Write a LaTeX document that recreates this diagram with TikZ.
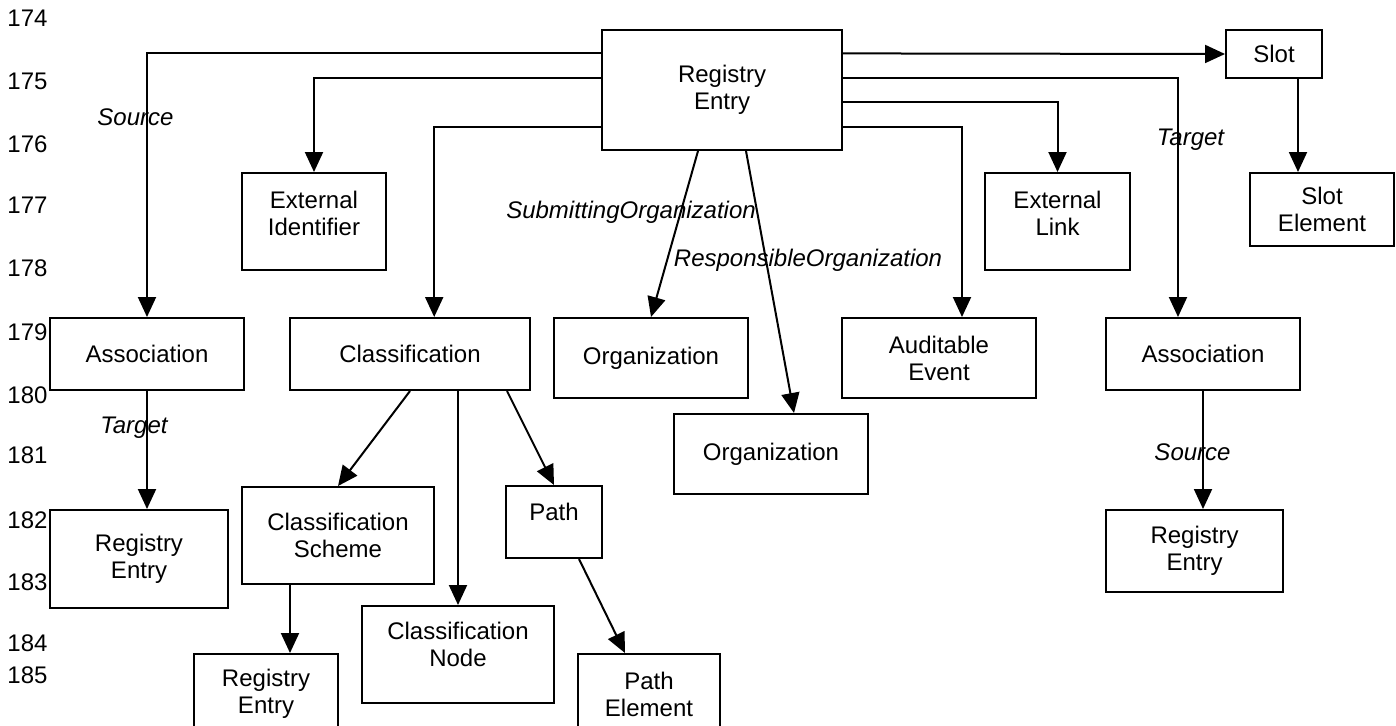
\documentclass[tikz,border=0pt]{standalone}
\usepackage{fontspec}
\setmainfont{Liberation Sans}
\usepackage{tikz}
\usetikzlibrary{shapes,arrows.meta,positioning}
\usetikzlibrary{calc}

\begin{document}
\begin{tikzpicture}
  [
    x=0.5pt, y=-0.5pt,
    >={Triangle[length=10pt, width=9pt]},
    font=\fontsize{12}{13.5}\selectfont,
    Box/.style={rectangle, draw=black, line width=1pt, align=center, inner sep=0pt},
    Role/.style={font=\fontsize{12}{13.5}\selectfont\itshape, inner sep=0pt},
    LineNo/.style={inner sep=0pt},
    Conn/.style={->, draw, line width=1pt}
  ]
  \useasboundingbox (0,0) rectangle (1396,725);
  \clip (0,0) rectangle (1396,725);
  % Line numbers
  \foreach \n/\y in {174/18, 175/81, 176/144, 177/205, 178/268, 179/332,
                     180/395, 181/455, 182/520, 183/582, 184/643, 185/675}
    \node[LineNo] (ln\n) at (27.5,\y) {\n};
  % Nodes
  \node[Box, minimum width=120pt, minimum height=60pt] (re) at (722,90) {Registry\\Entry};
  \node[Box, minimum width=48pt, minimum height=24pt] (slot) at (1274,54) {Slot};
  \node[Box, minimum width=72pt, minimum height=48.5pt, text depth=8pt] (extid) at (314,221.5) {External\\Identifier};
  \node[Box, minimum width=72.5pt, minimum height=48.5pt, text depth=8pt] (extlink) at (1057.5,221.5) {External\\Link};
  \node[Box, minimum width=72pt, minimum height=36.5pt] (slotel) at (1322,209.5) {Slot\\Element};
  \node[Box, minimum width=97pt, minimum height=36pt] (assocA) at (147,354) {Association};
  \node[Box, minimum width=120pt, minimum height=36pt] (class) at (410,354) {Classification};
  \node[Box, minimum width=97pt, minimum height=40pt] (org1) at (651,358) {Organization};
  \node[Box, minimum width=97pt, minimum height=40pt] (audit) at (939,358) {Auditable\\Event};
  \node[Box, minimum width=97pt, minimum height=36pt] (assocB) at (1203,354) {Association};
  \node[Box, minimum width=97pt, minimum height=40pt] (org2) at (771,454) {Organization};
  \node[Box, minimum width=89pt, minimum height=49pt] (reA) at (139,559) {Registry\\Entry};
  \node[Box, minimum width=96pt, minimum height=48.5pt] (cs) at (338,535.5) {Classification\\Scheme};
  \node[Box, minimum width=48pt, minimum height=36pt, text depth=10pt] (path) at (554,522) {Path};
  \node[Box, minimum width=88.5pt, minimum height=41pt] (reB) at (1194.5,551) {Registry\\Entry};
  \node[Box, minimum width=96pt, minimum height=48.5pt, text depth=10pt] (cnode) at (458,654.5) {Classification\\Node};
  \node[Box, minimum width=72pt, minimum height=40pt] (reC) at (266,694) {Registry\\Entry};
  \node[Box, minimum width=71pt, minimum height=40pt] (pathel) at (649,694) {Path\\Element};
  % Roles
  \node[Role] (srcA) at (135.5,117) {Source};
  \node[Role] (tgtA) at (134,428) {Target};
  \node[Role] (submit) at (631,212) {SubmittingOrganization};
  \node[Role] (resp) at (808,260) {ResponsibleOrganization};
  \node[Role] (tgtB) at (1190.5,140) {Target};
  \node[Role] (srcB) at (1192.5,452) {Source};
  % Lines
  \path [Conn] ($(re.north west)!0.2!(re.south west)$) -| (assocA.north);
  \path [Conn] ($(re.north west)!0.4!(re.south west)$) -| (extid.north);
  \path [Conn] ($(re.north west)!0.8!(re.south west)$) -| ($(class.north west)!0.6!(class.north east)$);
  \path [Conn] ($(re.north east)!0.2!(re.south east)$) -- (slot.west);
  \path [Conn] ($(re.north east)!0.4!(re.south east)$) -| ([xshift=-12.5pt]assocB.north);
  \path [Conn] ($(re.north east)!0.6!(re.south east)$) -| (extlink.north);
  \path [Conn] ($(re.north east)!0.8!(re.south east)$) -| ([xshift=11.5pt]audit.north);
  \path [Conn] ([xshift=-12pt]re.south) -- (org1.north);
  \path [Conn] ([xshift=12pt]re.south) -- ([xshift=11.5pt]org2.north);
  \path [Conn] ([xshift=12pt]slot.south) -- ([xshift=12pt]slot.south |- slotel.north);
  \path [Conn] (assocA.south) -- (assocA.south |- reA.north);
  \path [Conn] (class.south) -- (cs.north);
  \path [Conn] (cnode.north |- class.south) -- (cnode.north);
  \path [Conn] ([xshift=48.5pt]class.south) -- (path.north);
  \path [Conn] ([xshift=12.5pt]path.south) -- ([xshift=-12pt]pathel.north);
  \path [Conn] ([xshift=-24pt]cs.south) -- ([xshift=-24pt]cs.south |- reC.north);
  \path [Conn] (assocB.south) -- (assocB.south |- reB.north);
\end{tikzpicture}
\end{document}
